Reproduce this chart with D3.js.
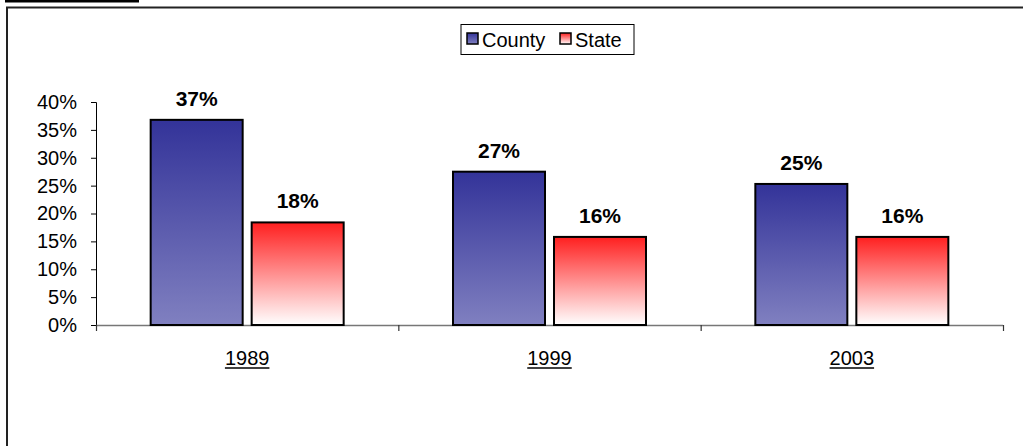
<!DOCTYPE html>
<html><head><meta charset="utf-8">
<script src="https://cdn.jsdelivr.net/npm/d3@7"></script>
<style>body{margin:0;background:#fff}svg{display:block;font-family:"Liberation Sans",Arial,sans-serif}</style>
</head><body><svg id="c" width="1023" height="446"></svg>
<script>
const categories = ["1989", "1999", "2003"];
const seriesNames = ["County", "State"];
const county = [36.8, 27.5, 25.3];
const state = [18.4, 15.8, 15.8];
const countyLabels = ["37%", "27%", "25%"];
const stateLabels = ["18%", "16%", "16%"];
const yTicks = [0, 5, 10, 15, 20, 25, 30, 35, 40];

const FONT = "Liberation Sans, Arial, sans-serif";
const svg = d3.select("#c");
const defs = svg.append("defs");
function grad(id, top, bottom){
  const g = defs.append("linearGradient").attr("id", id).attr("x1",0).attr("y1",0).attr("x2",0).attr("y2",1);
  g.append("stop").attr("offset","0%").attr("stop-color",top);
  g.append("stop").attr("offset","100%").attr("stop-color",bottom);
}
grad("gC", "#333399", "#8080c0");
grad("gS", "#ff1f1f", "#ffffff");

// frame
svg.append("rect").attr("x",5).attr("y",0).attr("width",134).attr("height",2.5).attr("fill","#000");
svg.append("line").attr("x1",6).attr("x2",1023).attr("y1",7.5).attr("y2",7.5).attr("stroke","#222").attr("stroke-width",2);
svg.append("line").attr("x1",7).attr("x2",7).attr("y1",7).attr("y2",446).attr("stroke","#222").attr("stroke-width",2);

const x0 = 96, x1 = 1003, yBot = 325, yTop = 102;
const x = d3.scaleBand().domain(categories).range([x0, x1]);
const y = d3.scaleLinear().domain([0, 40]).range([yBot, yTop]);

// y axis
const ya = svg.append("g").attr("transform", `translate(${x0},0)`)
  .call(d3.axisLeft(y).tickValues(yTicks).tickFormat(d => d + "%").tickSize(5).tickPadding(14));
ya.select(".domain").attr("stroke","#000").attr("stroke-width",1);
ya.selectAll(".tick line").attr("stroke","#000");
ya.selectAll("text").attr("font-size",20).attr("fill","#000").attr("font-family",FONT);

// x axis line and ticks
const xa = svg.append("g");
xa.append("line").attr("x1",x0).attr("x2",x1).attr("y1",yBot+0.5).attr("y2",yBot+0.5).attr("stroke","#777").attr("stroke-width",1.5);
const bounds = [x0].concat(categories.map(c => x(c) + x.bandwidth()));
xa.selectAll("line.t").data(bounds).enter().append("line").attr("class","t")
  .attr("x1", d => d+0.5).attr("x2", d => d+0.5).attr("y1", yBot).attr("y2", yBot+6).attr("stroke","#333").attr("stroke-width",1.2);
const cl = xa.selectAll("g.cl").data(categories).enter().append("g").attr("class","cl");
cl.append("text").attr("x", d => x(d) + x.bandwidth()/2).attr("y", 365).attr("text-anchor","middle")
  .attr("font-size",20).attr("fill","#000").text(d => d);
cl.each(function(){
  const g = d3.select(this);
  const bb = g.select("text").node().getBBox();
  g.append("line").attr("x1", bb.x).attr("x2", bb.x + bb.width).attr("y1", 368).attr("y2", 368)
    .attr("stroke","#000").attr("stroke-width",1.5);
});

// bars
const barW = 92, gap = 9;
const data = categories.map((c,i) => ({c, v:[county[i], state[i]], l:[countyLabels[i], stateLabels[i]]}));
const sub = d3.scaleOrdinal().domain(seriesNames).range([-(gap/2) - barW, gap/2]);
const fills = {County:"url(#gC)", State:"url(#gS)"};
data.forEach(d => {
  const cx = x(d.c) + x.bandwidth()/2;
  seriesNames.forEach((s, j) => {
    const bx = cx + sub(s);
    svg.append("rect").attr("x", bx).attr("y", y(d.v[j])).attr("width", barW).attr("height", yBot - y(d.v[j]))
      .attr("fill", fills[s]).attr("stroke","#000").attr("stroke-width",2);
    svg.append("text").attr("x", bx + barW/2).attr("y", y(d.v[j]) - 14).attr("text-anchor","middle")
      .attr("font-size",21).attr("font-weight","bold").attr("fill","#000").text(d.l[j]);
  });
});

// legend
const lg = svg.append("g");
lg.append("rect").attr("x",461).attr("y",24.5).attr("width",173).attr("height",30).attr("fill","#fff").attr("stroke","#000").attr("stroke-width",1);
const li = [{n:"County", x:467, f:"url(#gC)"},{n:"State", x:560, f:"url(#gS)"}];
li.forEach(d => {
  lg.append("rect").attr("x",d.x).attr("y",33).attr("width",11).attr("height",11).attr("fill",d.f).attr("stroke","#000").attr("stroke-width",1.5);
  lg.append("text").attr("x",d.x+15).attr("y",47).attr("font-size",20).attr("fill","#000").text(d.n);
});
</script></body></html>
